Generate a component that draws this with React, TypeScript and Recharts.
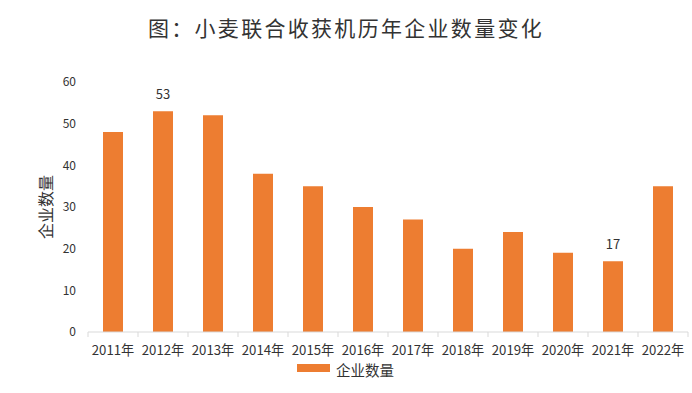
import React from "react";
import { BarChart, Bar, XAxis, YAxis, LabelList } from "recharts";

const categories = ["2011年", "2012年", "2013年", "2014年", "2015年", "2016年", "2017年", "2018年", "2019年", "2020年", "2021年", "2022年"];
const companyCounts = [48, 53, 52, 38, 35, 30, 27, 20, 24, 19, 17, 35];
const labeledCategories = ["2012年", "2021年"];
const yTicks = [0, 10, 20, 30, 40, 50, 60];
const seriesName = "企业数量";

const data = categories.map((c, i) => ({
  year: c,
  count: companyCounts[i],
  label: labeledCategories.includes(c) ? companyCounts[i] : null,
}));

const FONT = "'Noto Sans CJK SC', 'Noto Sans', sans-serif";
const BAR_COLOR = "#ED7D31";
const TEXT = "#333333";
const AXIS = "#d9d9d9";

const XTick = (props: any) => {
  const { x, y, payload, index } = props;
  const half = 25;
  const axisY = y - 8;
  return (
    <g>
      <line x1={x - half} y1={axisY} x2={x - half} y2={axisY + 5} stroke={AXIS} />
      {index === categories.length - 1 && (
        <line x1={x + half} y1={axisY} x2={x + half} y2={axisY + 5} stroke={AXIS} />
      )}
      <text x={x} y={axisY + 22.5} textAnchor="middle" fontSize={13.2} fill={TEXT} fontFamily={FONT}>
        {payload.value}
      </text>
    </g>
  );
};

const BarLabel = (props: any) => {
  const { x, y, width, value } = props;
  if (value === null || value === undefined) return null;
  return (
    <text x={x + width / 2} y={y - 12} textAnchor="middle" fontSize={13} fill={TEXT} fontFamily={FONT}>
      {value}
    </text>
  );
};

const YLabel = (props: any) => {
  const { viewBox } = props;
  const cy = viewBox.y + viewBox.height / 2;
  const cx = 45;
  return (
    <text
      x={cx}
      y={cy}
      transform={`rotate(-90, ${cx}, ${cy})`}
      textAnchor="middle"
      dominantBaseline="central"
      fontSize={16}
      fill={TEXT}
      fontFamily={FONT}
    >
      {seriesName}
    </text>
  );
};

export default function App() {
  return (
    <div style={{ position: "absolute", left: 0, top: 0, width: 692, height: 393, background: "#fff", fontFamily: FONT }}>
      <div
        style={{
          position: "absolute",
          top: 12,
          left: 0,
          width: 692,
          textAlign: "center",
          fontSize: 21,
          letterSpacing: 2.3,
          color: "#333",
          fontFamily: FONT,
        }}
      >
        图：小麦联合收获机历年企业数量变化
      </div>
      <BarChart
        width={692}
        height={393}
        data={data}
        margin={{ top: 82, right: 4, bottom: 21, left: 0 }}
      >
        <XAxis
          dataKey="year"
          axisLine={{ stroke: AXIS }}
          tickLine={false}
          tick={<XTick />}
          interval={0}
          height={40}
        />
        <YAxis
          width={88}
          domain={[0, 60]}
          ticks={yTicks}
          axisLine={false}
          tickLine={false}
          tickMargin={6}
          tick={{ fontSize: 12, fill: TEXT, fontFamily: FONT }}
          label={<YLabel />}
        />
        <Bar dataKey="count" name={seriesName} fill={BAR_COLOR} barSize={20} isAnimationActive={false}>
          <LabelList dataKey="label" content={<BarLabel />} />
        </Bar>
      </BarChart>
      <svg style={{ position: "absolute", left: 290, top: 356, overflow: "visible" }} width={120} height={26}>
        <rect x={7} y={8} width={33} height={8} fill={BAR_COLOR} />
        <text x={46} y={19.5} fontSize={14.5} fill={TEXT} fontFamily={FONT}>
          {seriesName}
        </text>
      </svg>
    </div>
  );
}
